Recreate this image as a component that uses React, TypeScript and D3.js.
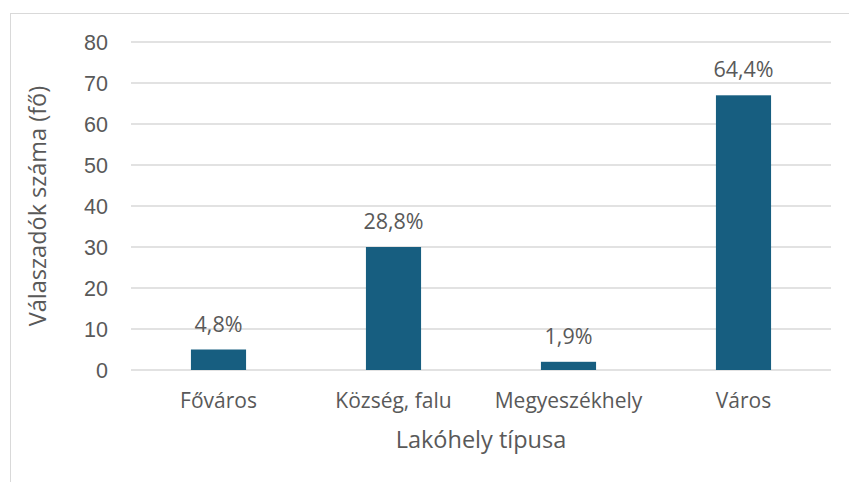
import React from "react";
import * as d3 from "d3";

const categories = ["Főváros", "Község, falu", "Megyeszékhely", "Város"];
const counts = [5, 30, 2, 67];
const percentLabels = ["4,8%", "28,8%", "1,9%", "64,4%"];
const yTicks = [0, 10, 20, 30, 40, 50, 60, 70, 80];

const W = 849;
const H = 482;
const plot = { left: 131, right: 831, top: 42, bottom: 370 };
const textColor = "#595959";
const barColor = "#175E80";
const font = "'Open Sans', sans-serif";

export default function App() {
  const x = d3
    .scaleBand<string>()
    .domain(categories)
    .range([plot.left, plot.right])
    .paddingInner(0.685)
    .paddingOuter(0.3425);
  const y = d3.scaleLinear().domain([0, 80]).range([plot.bottom, plot.top]);

  return (
    <svg
      width={W}
      height={H}
      style={{ position: "absolute", left: 0, top: 0, display: "block" }}
    >
      <rect x={0} y={0} width={W} height={H} fill="#fff" />
      <rect x={10.5} y={13.5} width={W} height={H} fill="none" stroke="#d9d9d9" strokeWidth={1} />
      {yTicks.map((t) => (
        <g key={t}>
          <line
            x1={plot.left}
            x2={plot.right}
            y1={y(t)}
            y2={y(t)}
            stroke="#d9d9d9"
            strokeWidth={1.5}
          />
          <text
            x={108}
            y={y(t)}
            dy="0.36em"
            textAnchor="end"
            fontFamily="'Liberation Sans', Arial, sans-serif"
            fontSize={21.5}
            fill={textColor}
          >
            {t}
          </text>
        </g>
      ))}
      {categories.map((c, i) => (
        <g key={c}>
          <rect
            x={x(c)}
            y={y(counts[i])}
            width={x.bandwidth()}
            height={y(0) - y(counts[i])}
            fill={barColor}
          />
          <text
            x={(x(c) as number) + x.bandwidth() / 2}
            y={y(counts[i]) - 18}
            textAnchor="middle"
            fontFamily={font}
            fontSize={21.5}
            fill={textColor}
          >
            {percentLabels[i]}
          </text>
          <text
            x={(x(c) as number) + x.bandwidth() / 2}
            y={408}
            textAnchor="middle"
            fontFamily={font}
            fontSize={21}
            fill={textColor}
          >
            {c}
          </text>
        </g>
      ))}
      <text
        x={(plot.left + plot.right) / 2}
        y={448}
        textAnchor="middle"
        fontFamily={font}
        fontSize={23.5}
        fill={textColor}
      >
        Lakóhely típusa
      </text>
      <text
        transform={`translate(46, ${(plot.top + plot.bottom) / 2}) rotate(-90)`}
        textAnchor="middle"
        fontFamily={font}
        fontSize={23.5}
        fill={textColor}
      >
        Válaszadók száma (fő)
      </text>
    </svg>
  );
}
